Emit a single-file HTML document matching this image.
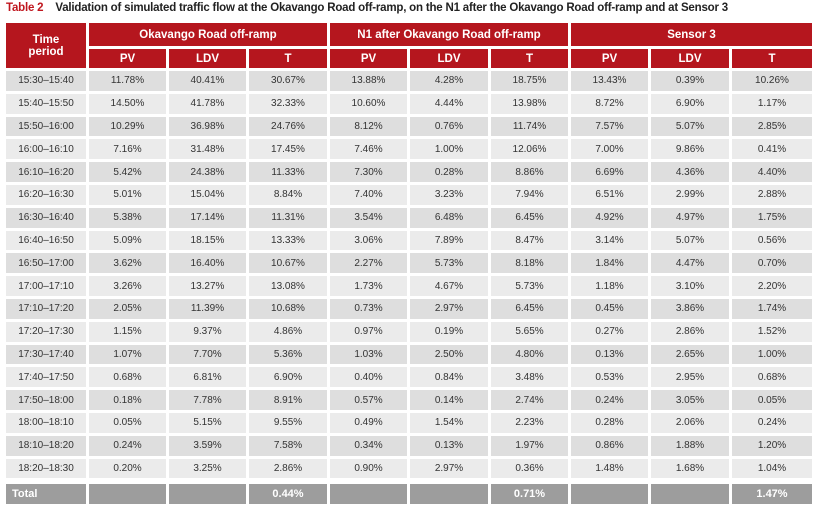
<!DOCTYPE html>
<html><head><meta charset="utf-8"><style>
body{margin:0;width:819px;height:507px;background:#fff;font-family:"Liberation Sans",Arial,sans-serif;position:relative;overflow:hidden}
.title{position:absolute;left:6px;top:2px;font-size:11.5px;font-weight:bold;color:#222;white-space:nowrap;letter-spacing:-0.2px}
.title span{color:#c0171f;margin-right:12px}
table{position:absolute;left:3px;top:20px;border-collapse:separate;border-spacing:3px;table-layout:fixed}
td,th{padding:0;text-align:center;font-size:10px;color:#333}
th{background:#b5161e;color:#fff;font-weight:bold;font-size:11.5px}
tr.h1 th{height:23px}
tr.h2 th{height:19px}
tr.d td{height:19.8px}
tr.d:nth-child(odd) td{background:#dedede}
tr.d:nth-child(even) td{background:#ebebeb}
tr.t td{height:20px;background:#9d9d9d;color:#fff;font-weight:bold;font-size:11px;border-top:3px solid #fff}
tr.t td.l{text-align:left;padding-left:6px}
</style></head><body>
<div class="title"><span>Table 2</span>Validation of simulated traffic flow at the Okavango Road off-ramp, on the N1 after the Okavango Road off-ramp and at Sensor 3</div>
<table>
<colgroup><col style="width:80px"><col style="width:77px"><col style="width:77px"><col style="width:78px"><col style="width:77px"><col style="width:78px"><col style="width:77px"><col style="width:77px"><col style="width:78px"><col style="width:80px"></colgroup>
<tr class="h1"><th rowspan="2">Time<br>period</th><th colspan="3">Okavango Road off-ramp</th><th colspan="3">N1 after Okavango Road off-ramp</th><th colspan="3">Sensor 3</th></tr>
<tr class="h2"><th>PV</th><th>LDV</th><th>T</th><th>PV</th><th>LDV</th><th>T</th><th>PV</th><th>LDV</th><th>T</th></tr>
<tr class="d"><td>15:30–15:40</td><td>11.78%</td><td>40.41%</td><td>30.67%</td><td>13.88%</td><td>4.28%</td><td>18.75%</td><td>13.43%</td><td>0.39%</td><td>10.26%</td></tr>
<tr class="d"><td>15:40–15:50</td><td>14.50%</td><td>41.78%</td><td>32.33%</td><td>10.60%</td><td>4.44%</td><td>13.98%</td><td>8.72%</td><td>6.90%</td><td>1.17%</td></tr>
<tr class="d"><td>15:50–16:00</td><td>10.29%</td><td>36.98%</td><td>24.76%</td><td>8.12%</td><td>0.76%</td><td>11.74%</td><td>7.57%</td><td>5.07%</td><td>2.85%</td></tr>
<tr class="d"><td>16:00–16:10</td><td>7.16%</td><td>31.48%</td><td>17.45%</td><td>7.46%</td><td>1.00%</td><td>12.06%</td><td>7.00%</td><td>9.86%</td><td>0.41%</td></tr>
<tr class="d"><td>16:10–16:20</td><td>5.42%</td><td>24.38%</td><td>11.33%</td><td>7.30%</td><td>0.28%</td><td>8.86%</td><td>6.69%</td><td>4.36%</td><td>4.40%</td></tr>
<tr class="d"><td>16:20–16:30</td><td>5.01%</td><td>15.04%</td><td>8.84%</td><td>7.40%</td><td>3.23%</td><td>7.94%</td><td>6.51%</td><td>2.99%</td><td>2.88%</td></tr>
<tr class="d"><td>16:30–16:40</td><td>5.38%</td><td>17.14%</td><td>11.31%</td><td>3.54%</td><td>6.48%</td><td>6.45%</td><td>4.92%</td><td>4.97%</td><td>1.75%</td></tr>
<tr class="d"><td>16:40–16:50</td><td>5.09%</td><td>18.15%</td><td>13.33%</td><td>3.06%</td><td>7.89%</td><td>8.47%</td><td>3.14%</td><td>5.07%</td><td>0.56%</td></tr>
<tr class="d"><td>16:50–17:00</td><td>3.62%</td><td>16.40%</td><td>10.67%</td><td>2.27%</td><td>5.73%</td><td>8.18%</td><td>1.84%</td><td>4.47%</td><td>0.70%</td></tr>
<tr class="d"><td>17:00–17:10</td><td>3.26%</td><td>13.27%</td><td>13.08%</td><td>1.73%</td><td>4.67%</td><td>5.73%</td><td>1.18%</td><td>3.10%</td><td>2.20%</td></tr>
<tr class="d"><td>17:10–17:20</td><td>2.05%</td><td>11.39%</td><td>10.68%</td><td>0.73%</td><td>2.97%</td><td>6.45%</td><td>0.45%</td><td>3.86%</td><td>1.74%</td></tr>
<tr class="d"><td>17:20–17:30</td><td>1.15%</td><td>9.37%</td><td>4.86%</td><td>0.97%</td><td>0.19%</td><td>5.65%</td><td>0.27%</td><td>2.86%</td><td>1.52%</td></tr>
<tr class="d"><td>17:30–17:40</td><td>1.07%</td><td>7.70%</td><td>5.36%</td><td>1.03%</td><td>2.50%</td><td>4.80%</td><td>0.13%</td><td>2.65%</td><td>1.00%</td></tr>
<tr class="d"><td>17:40–17:50</td><td>0.68%</td><td>6.81%</td><td>6.90%</td><td>0.40%</td><td>0.84%</td><td>3.48%</td><td>0.53%</td><td>2.95%</td><td>0.68%</td></tr>
<tr class="d"><td>17:50–18:00</td><td>0.18%</td><td>7.78%</td><td>8.91%</td><td>0.57%</td><td>0.14%</td><td>2.74%</td><td>0.24%</td><td>3.05%</td><td>0.05%</td></tr>
<tr class="d"><td>18:00–18:10</td><td>0.05%</td><td>5.15%</td><td>9.55%</td><td>0.49%</td><td>1.54%</td><td>2.23%</td><td>0.28%</td><td>2.06%</td><td>0.24%</td></tr>
<tr class="d"><td>18:10–18:20</td><td>0.24%</td><td>3.59%</td><td>7.58%</td><td>0.34%</td><td>0.13%</td><td>1.97%</td><td>0.86%</td><td>1.88%</td><td>1.20%</td></tr>
<tr class="d"><td>18:20–18:30</td><td>0.20%</td><td>3.25%</td><td>2.86%</td><td>0.90%</td><td>2.97%</td><td>0.36%</td><td>1.48%</td><td>1.68%</td><td>1.04%</td></tr>
<tr class="t"><td class="l">Total</td><td></td><td></td><td>0.44%</td><td></td><td></td><td>0.71%</td><td></td><td></td><td>1.47%</td></tr>
</table>
</body></html>
